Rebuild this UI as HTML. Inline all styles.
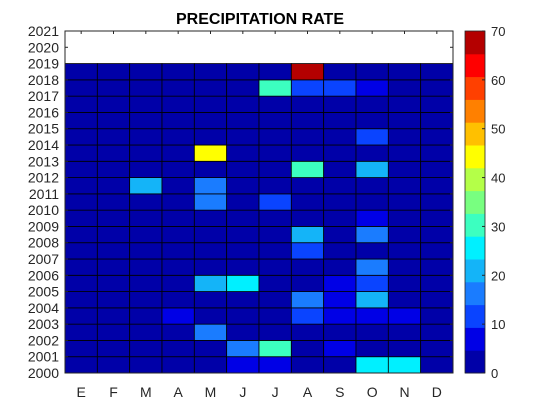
<!DOCTYPE html>
<html><head><meta charset="utf-8"><style>
body{margin:0;background:#fff;}
svg{display:block;font-family:"Liberation Sans",Arial,sans-serif;}
</style></head><body>
<svg id="c" width="560" height="420">
<text x="260" y="24" text-anchor="middle" font-size="16" font-weight="bold" fill="#000">PRECIPITATION RATE</text>
<g id="cells"></g>
<g id="grid"></g>
<g id="axes"></g>
<g id="cbar"></g>
</svg>
<script>
const months = ["E","F","M","A","M","J","J","A","S","O","N","D"];
const yearTicks = [2000,2001,2002,2003,2004,2005,2006,2007,2008,2009,2010,2011,2012,2013,2014,2015,2016,2017,2018,2019,2020,2021];
const dataYears = [2000,2001,2002,2003,2004,2005,2006,2007,2008,2009,2010,2011,2012,2013,2014,2015,2016,2017,2018];
// values per data year (row), per month
const v2000 = [2,2,2,2,2,7,7,2,2,26,26,2];
const v2001 = [2,2,2,2,2,16,30,2,7,2,2,2];
const v2002 = [2,2,2,2,16,2,2,2,2,2,2,2];
const v2003 = [2,2,2,7,2,2,2,12,7,7,7,2];
const v2004 = [2,2,2,2,2,2,2,16,7,21,2,2];
const v2005 = [2,2,2,2,21,26,2,2,7,12,2,2];
const v2006 = [2,2,2,2,2,2,2,2,2,16,2,2];
const v2007 = [2,2,2,2,2,2,2,12,2,2,2,2];
const v2008 = [2,2,2,2,2,2,2,21,2,16,2,2];
const v2009 = [2,2,2,2,2,2,2,2,2,7,2,2];
const v2010 = [2,2,2,2,16,2,12,2,2,2,2,2];
const v2011 = [2,2,21,2,16,2,2,2,2,2,2,2];
const v2012 = [2,2,2,2,2,2,2,30,2,21,2,2];
const v2013 = [2,2,2,2,45,2,2,2,2,2,2,2];
const v2014 = [2,2,2,2,2,2,2,2,2,12,2,2];
const v2015 = [2,2,2,2,2,2,2,2,2,2,2,2];
const v2016 = [2,2,2,2,2,2,2,2,2,2,2,2];
const v2017 = [2,2,2,2,2,2,30,12,12,7,2,2];
const v2018 = [2,2,2,2,2,2,2,68,2,2,2,2];
const values = [v2000,v2001,v2002,v2003,v2004,v2005,v2006,v2007,v2008,v2009,v2010,v2011,v2012,v2013,v2014,v2015,v2016,v2017,v2018];
const cbTicks = [0,10,20,30,40,50,60,70];
const palette = ["#0000a8","#0000e6","#0a44ff","#1a7cff","#14b4f8","#00f0ff","#3cffc0","#78ff80","#b4ff48","#ffff00","#ffc000","#ff8000","#ff4000","#ff0000","#b40000"];
const vmin=0, vmax=70;

const NS="http://www.w3.org/2000/svg";
const X0=65,X1=453,Y0=31,Y1=373;
const colW=(X1-X0)/months.length;
const yScale = y => Y1-(y-2000)/(2021-2000)*(Y1-Y0);
const xScale = i => X0+i*colW;
const colorOf = v => palette[Math.max(0,Math.min(palette.length-1,Math.floor((v-vmin)/(vmax-vmin)*palette.length)))];
function mk(t,a,p){const e=document.createElementNS(NS,t);for(const k in a)e.setAttribute(k,a[k]);p.appendChild(e);return e;}

const cells=document.getElementById('cells');
values.forEach((row,r)=>{
  const yr=dataYears[r];
  row.forEach((v,m)=>{
    const e=mk('rect',{x:xScale(m),y:yScale(yr+1),width:colW,height:yScale(yr)-yScale(yr+1),fill:colorOf(v),stroke:"#000","stroke-width":0.8},cells);
    
    
  });
});

const axes=document.getElementById('axes');
const frame=mk('rect',{x:X0,y:Y0,width:X1-X0,height:Y1-Y0,fill:"none",stroke:"#262626","stroke-width":1},axes);


yearTicks.forEach(y=>{
  const t=mk('text',{x:59,y:yScale(y)+5,"text-anchor":"end","font-size":14,fill:"#262626"},axes);
  t.textContent=y;
  
  
  mk('line',{x1:X0,x2:X0+3,y1:yScale(y),y2:yScale(y),stroke:"#262626"},axes);
  mk('line',{x1:X1,x2:X1-3,y1:yScale(y),y2:yScale(y),stroke:"#262626"},axes);
});
months.forEach((m,i)=>{
  const cx=xScale(i)+colW/2;
  const t=mk('text',{x:cx,y:397,"text-anchor":"middle","font-size":14,fill:"#262626"},axes);
  t.textContent=m;
  
  
  mk('line',{x1:cx,x2:cx,y1:Y0,y2:Y0+3,stroke:"#262626"},axes);
});

const cb=document.getElementById('cbar');
const CX=465,CW=20;
const cbY = v => Y1-(v-vmin)/(vmax-vmin)*(Y1-Y0);
palette.forEach((c,i)=>{
  const lo=vmin+i*(vmax-vmin)/palette.length, hi=vmin+(i+1)*(vmax-vmin)/palette.length;
  const e=mk('rect',{x:CX,y:cbY(hi),width:CW,height:cbY(lo)-cbY(hi)+0.5,fill:c},cb);
  
  
});
const cbf=mk('rect',{x:CX,y:Y0,width:CW,height:Y1-Y0,fill:"none",stroke:"#262626","stroke-width":0.8},cb);


cbTicks.forEach(v=>{
  mk('line',{x1:CX+CW,x2:CX+CW-3,y1:cbY(v),y2:cbY(v),stroke:"#262626"},cb);
  const t=mk('text',{x:491,y:cbY(v)+5,"font-size":13,fill:"#262626"},cb);
  t.textContent=v;
  
  
});
</script>
</body></html>
